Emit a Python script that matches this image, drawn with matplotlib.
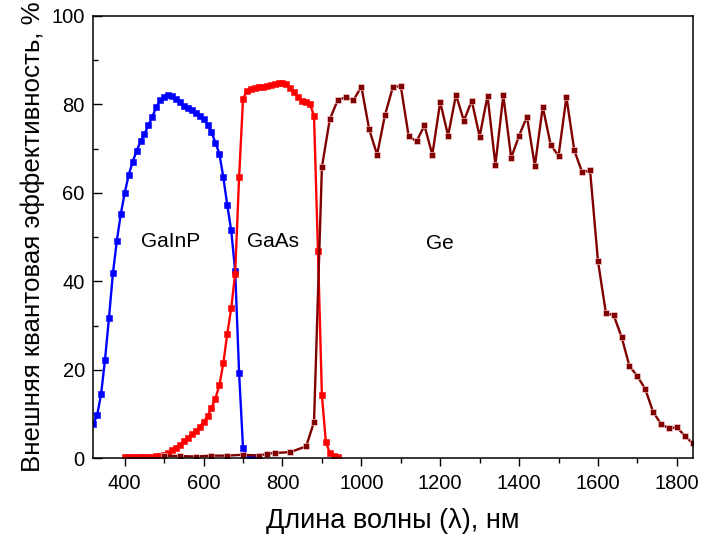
import numpy as np
import matplotlib
matplotlib.use("Agg")
import matplotlib.pyplot as plt
from matplotlib.ticker import MultipleLocator

plt.rcParams['font.family'] = ['Liberation Sans', 'DejaVu Sans']

# GaInP (blue)
gainp_x = [320, 330, 340, 350, 360, 370, 380, 390, 400, 410, 420, 430, 440, 450,
           460, 470, 480, 490, 500, 510, 520, 530, 540, 550, 560, 570, 580, 590,
           600, 610, 620, 630, 640, 650, 660, 670, 680, 690, 700, 710, 720, 730]
gainp_y = [7.7, 9.7, 14.5, 22.3, 31.7, 41.8, 49.2, 55.2, 60.0, 64.0, 67.0, 69.4,
           71.6, 73.3, 75.2, 77.2, 79.3, 81.0, 81.7, 82.0, 81.9, 81.2, 80.4, 79.7,
           79.1, 78.6, 78.0, 77.4, 76.6, 75.4, 73.7, 71.3, 68.8, 63.5, 57.2, 51.5,
           42.4, 19.3, 2.3, 0.4, 0.3, 0.3]

# GaAs (red)
gaas_x = [400, 410, 420, 430, 440, 450, 460, 470, 480, 490, 500, 510, 520, 530,
          540, 550, 560, 570, 580, 590, 600, 610, 620, 630, 640, 650, 660, 670,
          680, 690, 700, 710, 720, 730, 740, 750, 760, 770, 780, 790, 800, 810,
          820, 830, 840, 850, 860, 870, 880, 890, 900, 910, 920, 930, 940]
gaas_y = [0.3, 0.3, 0.3, 0.3, 0.3, 0.3, 0.4, 0.4, 0.5, 0.6, 0.8, 1.2, 1.8, 2.3,
          3.1, 3.8, 4.6, 5.4, 6.2, 7.1, 8.2, 9.5, 11.4, 13.5, 16.5, 21.5, 28.1,
          33.9, 41.7, 63.5, 81.2, 83.1, 83.4, 83.7, 83.9, 84.0, 84.2, 84.4, 84.6,
          84.7, 84.9, 84.6, 83.6, 82.7, 81.6, 80.8, 80.4, 80.0, 77.4, 46.8, 14.2,
          3.7, 1.2, 0.5, 0.3]

# Ge (dark red)
ge_x = [500, 540, 580, 620, 660, 700, 740, 760, 780, 820, 860, 880,
        900, 920, 940, 960, 980, 1000, 1020, 1040, 1060, 1080, 1100, 1120, 1140,
        1160, 1180, 1200, 1220, 1240, 1260, 1280, 1300, 1320, 1340, 1360, 1380,
        1400, 1420, 1440, 1460, 1480, 1500, 1520, 1540, 1560, 1580, 1600, 1620,
        1640, 1660, 1680, 1700, 1720, 1740, 1760, 1780, 1800, 1820, 1840]
ge_y = [0.6, 0.5, 0.4, 0.6, 0.6, 0.8, 0.6, 1.0, 1.2, 1.4, 2.7, 8.2,
        65.8, 76.6, 80.9, 81.6, 80.9, 84.0, 74.3, 68.6, 77.6, 83.9, 84.1, 72.8,
        71.6, 75.2, 68.6, 80.5, 72.9, 82.1, 76.3, 80.8, 72.7, 81.9, 66.3, 82.0,
        67.9, 72.9, 77.2, 66.1, 79.4, 70.9, 68.3, 81.6, 69.6, 64.6, 65.1, 44.6,
        32.9, 32.3, 27.4, 20.8, 18.6, 15.6, 10.5, 7.7, 6.8, 7.0, 5.1, 3.4]

labels = ['GaInP', 'GaAs', 'Ge']
label_x = [517, 776, 1198]
label_y = [47.8, 47.8, 47.4]

fig = plt.figure(figsize=(7.06, 5.43), dpi=100)
ax = fig.add_axes([0.132, 0.156, 0.849, 0.815])

style = dict(marker='s', markersize=4.6, linewidth=1.7, markeredgewidth=0.4,
             markeredgecolor='#ffe0e0')
ax.plot(gainp_x, gainp_y, color='#0000ff', **{**style, 'markeredgecolor': '#0000ff'})
ax.plot(gaas_x, gaas_y, color='#ff0000', **{**style, 'markeredgecolor': '#ff0000'})
ax.plot(ge_x, ge_y, color='#800000', **style)

for t, x, y in zip(labels, label_x, label_y):
    ax.text(x, y, t, fontsize=15, ha='center', va='baseline')

ax.set_xlim(320, 1840)
ax.set_ylim(0, 100)
ax.xaxis.set_major_locator(MultipleLocator(200))
ax.xaxis.set_minor_locator(MultipleLocator(100))
ax.yaxis.set_major_locator(MultipleLocator(20))
ax.yaxis.set_minor_locator(MultipleLocator(10))

ax.tick_params(axis='x', which='major', direction='out', length=6, width=1,
               labelsize=14.5, pad=5)
ax.tick_params(axis='x', which='minor', direction='out', length=3.6, width=1)
ax.tick_params(axis='y', which='major', direction='in', length=6.5, width=1,
               labelsize=14.5, pad=6)
ax.tick_params(axis='y', which='minor', direction='in', length=3.6, width=1)
for s in ax.spines.values():
    s.set_linewidth(1.1)

ax.set_xlabel('Длина волны (λ), нм', fontsize=19.5, labelpad=11)
ax.set_ylabel('Внешняя квантовая эффективность, %', fontsize=18.6, labelpad=5)

fig.savefig('out.png', dpi=100)
